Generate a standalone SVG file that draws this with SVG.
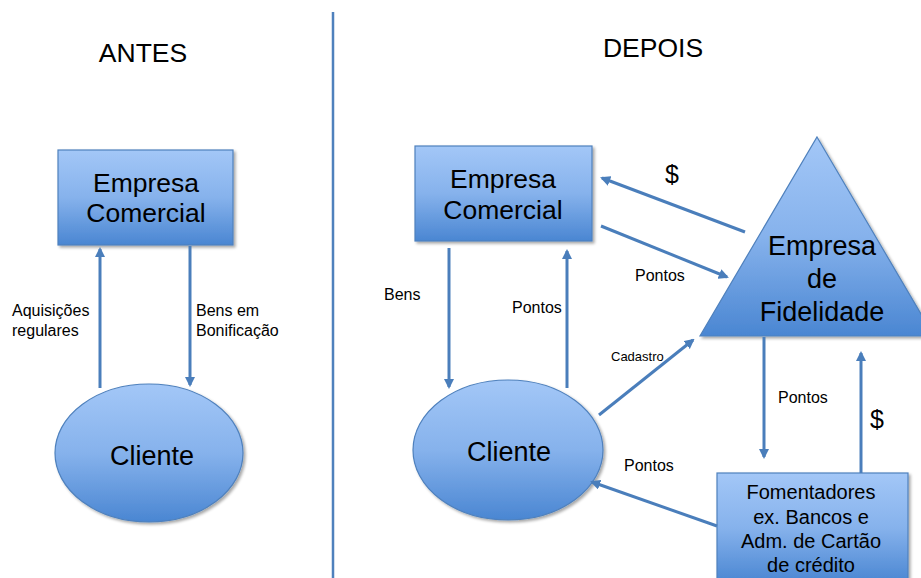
<svg xmlns="http://www.w3.org/2000/svg" width="921" height="578" viewBox="0 0 921 578">
  <style>
    text { font-family: "Liberation Sans", Arial, sans-serif; fill: #000; }
    .shape { fill: url(#blueFill); stroke: #4f81bd; stroke-width: 1.2; filter: url(#shadow); }
    .big { font-size: 26.5px; text-anchor: middle; }
    .title { font-size: 26.5px; text-anchor: middle; }
    .mid { font-size: 20px; text-anchor: middle; }
    .lbl { font-size: 16px; }
    .sm { font-size: 13px; }
    .conn { stroke: #4a7ebb; stroke-width: 3; fill: none; marker-end: url(#head); }
  </style>
  <defs>
    <linearGradient id="blueFill" x1="0" y1="0" x2="0" y2="1">
      <stop offset="0" stop-color="#a3c7f7"/>
      <stop offset="0.5" stop-color="#86b2ec"/>
      <stop offset="1" stop-color="#4a86d2"/>
    </linearGradient>
    <filter id="shadow" x="-10%" y="-10%" width="125%" height="125%">
      <feGaussianBlur in="SourceAlpha" stdDeviation="1.5"/>
      <feOffset dx="1.5" dy="2" result="b"/>
      <feComponentTransfer><feFuncA type="linear" slope="0.35"/></feComponentTransfer>
      <feMerge><feMergeNode/><feMergeNode in="SourceGraphic"/></feMerge>
    </filter>
    <marker id="head" viewBox="0 0 10 10" refX="8" refY="5" markerWidth="3.4" markerHeight="3.4" orient="auto" markerUnits="strokeWidth">
      <path d="M0,0 L10,5 L0,10 z" fill="#4a7ebb"/>
    </marker>
  </defs>

  <!-- divider between the two scenarios -->
  <line x1="333" y1="12" x2="333" y2="578" stroke="#4f81bd" stroke-width="2.5"/>

  <text class="title" x="143" y="62">ANTES</text>
  <text class="title" x="653" y="57">DEPOIS</text>

  <!-- before -->
  <g id="antes-empresa">
    <rect class="shape" x="58" y="150" width="175" height="95"/>
    <text class="big" x="146" y="192">Empresa</text>
    <text class="big" x="146" y="222">Comercial</text>
  </g>
  <g id="antes-cliente">
    <ellipse class="shape" cx="149" cy="453" rx="94" ry="69"/>
    <text class="big" x="152" y="465" style="font-size:27px">Cliente</text>
  </g>

  <!-- after -->
  <g id="depois-empresa">
    <rect class="shape" x="415" y="146" width="177" height="95"/>
    <text class="big" x="503" y="188">Empresa</text>
    <text class="big" x="503" y="219">Comercial</text>
  </g>
  <g id="depois-cliente">
    <ellipse class="shape" cx="508" cy="450" rx="95" ry="70"/>
    <text class="big" x="509" y="461" style="font-size:27px">Cliente</text>
  </g>
  <g id="fidelidade">
    <polygon class="shape" points="817,137 934,336 700,336"/>
    <text class="big" x="822" y="255" style="font-size:27px">Empresa</text>
    <text class="big" x="822" y="288" style="font-size:27px">de</text>
    <text class="big" x="822" y="321" style="font-size:27px">Fidelidade</text>
  </g>
  <g id="fomentadores">
    <rect class="shape" x="717" y="473" width="191" height="110"/>
    <text class="mid" x="811" y="499">Fomentadores</text>
    <text class="mid" x="811" y="524">ex. Bancos e</text>
    <text class="mid" x="811" y="548">Adm. de Cartão</text>
    <text class="mid" x="811" y="572">de crédito</text>
  </g>

  <g id="connectors">
    <!-- before -->
    <line class="conn" x1="100" y1="388" x2="100" y2="249"/>
    <line class="conn" x1="190" y1="246" x2="190" y2="385"/>
    <!-- after -->
    <line class="conn" x1="449" y1="248" x2="449" y2="387"/>
    <line class="conn" x1="567" y1="388" x2="567" y2="251"/>
    <line class="conn" x1="745" y1="232" x2="602" y2="178"/>
    <line class="conn" x1="601" y1="226" x2="727" y2="277"/>
    <line class="conn" x1="599" y1="415" x2="693" y2="340"/>
    <line class="conn" x1="717" y1="526" x2="592" y2="482"/>
    <line class="conn" x1="764" y1="337" x2="764" y2="457"/>
    <line class="conn" x1="861" y1="473" x2="861" y2="353"/>
  </g>

  <!-- connector labels -->
  <text class="lbl" x="12" y="316">Aquisições</text>
  <text class="lbl" x="12" y="336">regulares</text>
  <text class="lbl" x="196" y="316">Bens em</text>
  <text class="lbl" x="196" y="336">Bonificação</text>
  <text class="lbl" x="384" y="300">Bens</text>
  <text class="lbl" x="512" y="313">Pontos</text>
  <text x="672" y="183" style="font-size:25px;text-anchor:middle">$</text>
  <text class="lbl" x="635" y="281">Pontos</text>
  <text class="sm" x="611" y="361">Cadastro</text>
  <text class="lbl" x="624" y="471">Pontos</text>
  <text class="lbl" x="778" y="403">Pontos</text>
  <text x="877" y="428" style="font-size:25px;text-anchor:middle">$</text>
</svg>
